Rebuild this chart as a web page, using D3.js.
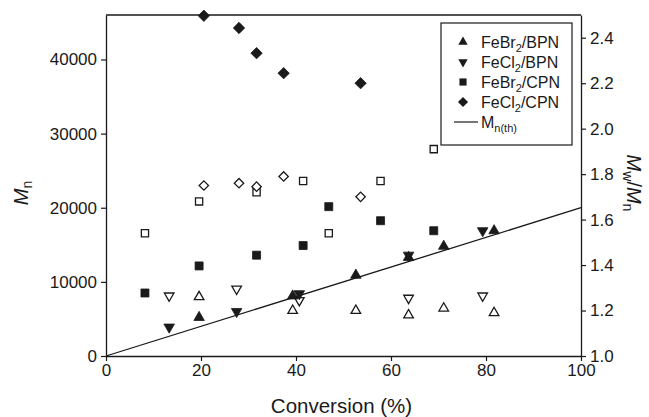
<!DOCTYPE html>
<html>
<head>
<meta charset="utf-8">
<script src="https://cdn.jsdelivr.net/npm/d3@7"></script>
<style>
  html, body { margin: 0; padding: 0; background: #fff; }
  svg { display: block; font-family: "Liberation Sans", Arial, sans-serif; }
</style>
</head>
<body>
<svg id="chart" width="649" height="417"></svg>
<script>
// Conversion (%) and number-average molar mass / dispersity for each catalyst system
const febr2BpnConv = [19.6, 39.3, 52.6, 63.7, 71.1, 81.7];
const febr2BpnMn   = [5200, 8100, 10900, 13300, 14800, 16900];
const febr2BpnPdi  = [1.26, 1.20, 1.20, 1.18, 1.21, 1.19];

const fecl2BpnConv = [13.3, 27.5, 40.7, 63.7, 79.3];
const fecl2BpnMn   = [3900, 6000, 8400, 13600, 16900];
const fecl2BpnPdi  = [1.265, 1.295, 1.245, 1.255, 1.265];

const febr2CpnConv = [8.2, 19.6, 31.7, 41.5, 46.9, 57.8, 69.0];
const febr2CpnMn   = [8500, 12150, 13600, 14900, 20150, 18250, 16900];
const febr2CpnPdi  = [1.54, 1.68, 1.72, 1.77, 1.54, 1.77, 1.91];

const fecl2CpnConv = [20.6, 28.0, 31.7, 37.4, 53.6];
const fecl2CpnMn   = [45900, 44250, 40850, 38150, 36800];
const fecl2CpnPdi  = [1.75, 1.76, 1.745, 1.79, 1.70];

// Theoretical Mn line
const theoryConv = [0, 100];
const theoryMn   = [0, 20000];

const xTicks = [0, 20, 40, 60, 80, 100];
const yLeftTicks = [0, 10000, 20000, 30000, 40000];
const yRightTicks = [1.0, 1.2, 1.4, 1.6, 1.8, 2.0, 2.2, 2.4];

const svg = d3.select("#chart");
const ink = "#1a1a1a";
const m = { left: 106, right: 581, top: 15, bottom: 356 };

const x = d3.scaleLinear().domain([0, 100]).range([m.left, m.right]);
const yL = d3.scaleLinear().domain([0, 46000]).range([m.bottom, m.top]);
const yR = d3.scaleLinear().domain([1.0, 2.5]).range([m.bottom, m.top]);

// Axes
const tickFont = "17px";
const gx = svg.append("g").attr("transform", `translate(0,${m.bottom})`)
  .call(d3.axisBottom(x).tickValues(xTicks).tickFormat(d3.format("d")).tickSize(5).tickSizeOuter(0).tickPadding(3));
const gl = svg.append("g").attr("transform", `translate(${m.left},0)`)
  .call(d3.axisLeft(yL).tickValues(yLeftTicks).tickFormat(d3.format("d")).tickSize(5).tickSizeOuter(0).tickPadding(4));
const gr = svg.append("g").attr("transform", `translate(${m.right},0)`)
  .call(d3.axisRight(yR).tickValues(yRightTicks).tickFormat(d3.format(".1f")).tickSize(5).tickSizeOuter(0).tickPadding(4));
[gx, gl, gr].forEach(g => {
  g.selectAll("path.domain").attr("stroke", ink).attr("stroke-width", 1.3);
  g.selectAll(".tick line").attr("stroke", ink).attr("stroke-width", 1.2);
  g.selectAll(".tick text").attr("fill", ink).style("font-size", tickFont).style("font-family", "Liberation Sans, Arial, sans-serif");
});
// top frame line
svg.append("line").attr("x1", m.left).attr("x2", m.right).attr("y1", m.top).attr("y2", m.top)
  .attr("stroke", ink).attr("stroke-width", 1.3);

// Axis titles
svg.append("text").attr("x", (m.left + m.right) / 2 - 2).attr("y", 413)
  .attr("text-anchor", "middle").attr("fill", ink).style("font-size", "20.5px")
  .text("Conversion (%)");

const ylab = svg.append("text").attr("transform", "translate(28,193) rotate(-90)")
  .attr("text-anchor", "middle").attr("fill", ink).style("font-size", "20px");
ylab.append("tspan").style("font-style", "italic").text("M");
ylab.append("tspan").attr("dy", 4).style("font-size", "14px").text("n");

const rlab = svg.append("text").attr("transform", "translate(627,183) rotate(90)")
  .attr("text-anchor", "middle").attr("fill", ink).style("font-size", "20px");
rlab.append("tspan").style("font-style", "italic").text("M");
rlab.append("tspan").attr("dy", 4).style("font-size", "14px").text("w");
rlab.append("tspan").attr("dy", -4).text("/");
rlab.append("tspan").style("font-style", "italic").text("M");
rlab.append("tspan").attr("dy", 4).style("font-size", "14px").text("n");

// Theoretical line
svg.append("path")
  .datum(theoryConv.map((c, i) => [c, theoryMn[i]]))
  .attr("d", d3.line().x(d => x(d[0])).y(d => yL(d[1])))
  .attr("fill", "none").attr("stroke", ink).attr("stroke-width", 1.3);

// Marker shapes
const shapes = {
  up:      { type: d3.symbolTriangle, size: 48, rot: 0 },
  down:    { type: d3.symbolTriangle, size: 48, rot: 180 },
  square:  { type: d3.symbolSquare,   size: 64, rot: 0 },
  diamond: { type: d3.symbolSquare,   size: 64, rot: 45 }
};
const openSize = { up: 40, down: 40, square: 52, diamond: 44 };

function drawSeries(conv, vals, scale, shape, filled) {
  const s = shapes[shape];
  const sym = d3.symbol().type(s.type).size(filled ? s.size : openSize[shape]);
  svg.append("g").selectAll("path")
    .data(conv.map((c, i) => [c, vals[i]]))
    .join("path")
    .attr("d", sym)
    .attr("transform", d => `translate(${x(d[0])},${scale(d[1])}) rotate(${s.rot})`)
    .attr("fill", filled ? ink : "#fff")
    .attr("stroke", ink)
    .attr("stroke-width", filled ? 0.8 : 1.3);
}

// Dispersity (open markers, right axis)
drawSeries(febr2BpnConv, febr2BpnPdi, yR, "up", false);
drawSeries(fecl2BpnConv, fecl2BpnPdi, yR, "down", false);
drawSeries(febr2CpnConv, febr2CpnPdi, yR, "square", false);
drawSeries(fecl2CpnConv, fecl2CpnPdi, yR, "diamond", false);
// Mn (filled markers, left axis)
drawSeries(febr2BpnConv, febr2BpnMn, yL, "up", true);
drawSeries(fecl2BpnConv, fecl2BpnMn, yL, "down", true);
drawSeries(febr2CpnConv, febr2CpnMn, yL, "square", true);
drawSeries(fecl2CpnConv, fecl2CpnMn, yL, "diamond", true);

// Legend
const lg = svg.append("g");
lg.append("rect").attr("x", 441).attr("y", 23).attr("width", 131).attr("height", 122)
  .attr("fill", "#fff").attr("stroke", ink).attr("stroke-width", 1.2);
const legendItems = [
  { shape: "up",      main: "FeBr", sub: "2", rest: "/BPN" },
  { shape: "down",    main: "FeCl", sub: "2", rest: "/BPN" },
  { shape: "square",  main: "FeBr", sub: "2", rest: "/CPN" },
  { shape: "diamond", main: "FeCl", sub: "2", rest: "/CPN" }
];
legendItems.forEach((it, i) => {
  const cy = 42 + i * 20;
  const s = shapes[it.shape];
  lg.append("path")
    .attr("d", d3.symbol().type(s.type).size(s.size * 0.8)())
    .attr("transform", `translate(463,${cy}) rotate(${s.rot})`)
    .attr("fill", ink);
  const t = lg.append("text").attr("x", 481).attr("y", cy + 5.5).attr("fill", ink).style("font-size", "16px");
  t.append("tspan").text(it.main);
  t.append("tspan").attr("dy", 4).style("font-size", "11px").text(it.sub);
  t.append("tspan").attr("dy", -4).text(it.rest);
});
lg.append("line").attr("x1", 454).attr("x2", 478).attr("y1", 122).attr("y2", 122)
  .attr("stroke", ink).attr("stroke-width", 1.2);
const tt = lg.append("text").attr("x", 481).attr("y", 127.5).attr("fill", ink).style("font-size", "16px");
tt.append("tspan").text("M");
tt.append("tspan").attr("dy", 4).style("font-size", "11px").text("n(th)");
</script>
</body>
</html>
